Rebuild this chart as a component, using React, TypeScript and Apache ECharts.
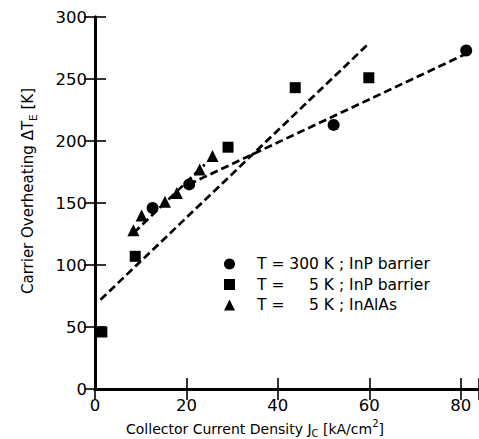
import React, { useEffect, useRef } from "react";
import * as echarts from "echarts";

const circleX = [12.6, 20.6, 52.2, 81.2];
const circleY = [146, 165, 213, 273];
const squareX = [1.5, 8.8, 29.1, 43.8, 59.9];
const squareY = [46, 107, 195, 243, 251];
const triX = [8.4, 10.2, 15.3, 17.9, 22.9, 25.7];
const triY = [128, 140, 151, 158, 177, 188];
const fitSquareX = [1.2, 60];
const fitSquareY = [72, 279];
const fitCircleX = [20.5, 81];
const fitCircleY = [165, 270];
const fitTriX = [8.5, 24];
const fitTriY = [126, 181];
const xTicks = [0, 20, 40, 60, 80];
const yTicks = [0, 50, 100, 150, 200, 250, 300];
const legendNames = [
  "T = 300 K ; InP barrier",
  "T = \u2007\u20075 K ; InP barrier",
  "T = \u2007\u20075 K ; InAlAs",
];

const zip = (xs: number[], ys: number[]) => xs.map((x, i) => [x, ys[i]]);

export default function App() {
  const ref = useRef<HTMLDivElement>(null);
  useEffect(() => {
    if (!ref.current) return;
    const chart = echarts.init(ref.current, null, { renderer: "svg" });
    const font = "DejaVu Sans, Liberation Sans, Arial, sans-serif";
    const dashed = (xs: number[], ys: number[]) => ({
      type: "line",
      data: zip(xs, ys),
      symbol: "none",
      lineStyle: { color: "#000", width: 2.7, type: [8, 4] },
      z: 1,
      silent: true,
    });
    const marker = (name: string, symbol: string, xs: number[], ys: number[], size: number) => ({
      type: "scatter",
      name,
      data: zip(xs, ys),
      symbol,
      symbolSize: size,
      itemStyle: { color: "#000", opacity: 1 },
      z: 3,
    });
    const axisLineStyle = { color: "#000", width: 3 };
    const tickStyle = { show: true, inside: true, length: 11, lineStyle: { color: "#000", width: 1.6 } };
    chart.setOption({
      animation: false,
      grid: { left: 95, right: 0, top: 17, bottom: 50, outerBoundsMode: "none" },
      legend: {
        show: true,
        orient: "vertical",
        left: 219,
        top: 251,
        padding: 5,
        itemWidth: 11,
        itemHeight: 11,
        itemGap: 4.5,
        data: [
          { name: legendNames[0], icon: "circle", itemStyle: { color: "#000", opacity: 1 } },
          { name: legendNames[1], icon: "rect", itemStyle: { color: "#000", opacity: 1 } },
          { name: legendNames[2], icon: "triangle", itemStyle: { color: "#000", opacity: 1 } },
        ],
        textStyle: {
          fontFamily: font,
          fontSize: 15.5,
          color: "#000",
          lineHeight: 16,
          padding: [0, 0, 0, 17],
        },
      },
      xAxis: [
        {
          type: "value",
          min: 0,
          max: 84,
          interval: 20,
          axisLine: { show: true, lineStyle: axisLineStyle },
          axisTick: tickStyle,
          axisLabel: {
            color: "#000",
            fontSize: 16.5,
            fontFamily: font,
            margin: 8,
            formatter: (v: number) => (xTicks.includes(v) ? String(v) : ""),
          },
          splitLine: { show: false },
          name: "{n|Collector Current Density J}{sub|C}{n| [kA/cm}{sup|2}{n|]}",
          nameLocation: "middle",
          nameGap: 24,
          nameTextStyle: {
            padding: [0, 64, 0, 0],
            rich: {
              n: { fontFamily: font, fontSize: 14, color: "#000", lineHeight: 20, verticalAlign: "middle" },
              sub: { fontFamily: font, fontSize: 10, color: "#000", verticalAlign: "bottom", lineHeight: 20, padding: [8, 0, 0, 0] },
              sup: { fontFamily: font, fontSize: 10, color: "#000", verticalAlign: "top", lineHeight: 20, padding: [0, 0, 6, 0] },
            },
          },
        },
        {
          type: "value",
          position: "top",
          min: 0,
          max: 84,
          interval: 20,
          axisLine: { show: true, lineStyle: axisLineStyle },
          axisTick: tickStyle,
          axisLabel: { show: false },
          splitLine: { show: false },
        },
      ],
      yAxis: [
        {
          type: "value",
          min: 0,
          max: 300,
          interval: 50,
          axisLine: { show: true, lineStyle: axisLineStyle },
          axisTick: tickStyle,
          axisLabel: {
            color: "#000",
            fontSize: 16.5,
            fontFamily: font,
            margin: 8,
            formatter: (v: number) => (yTicks.includes(v) ? String(v) : ""),
          },
          splitLine: { show: false },
          name: "{n|Carrier Overheating \u0394T}{sub|E}{n| [K]}",
          nameLocation: "middle",
          nameGap: 57,
          nameTextStyle: {
            padding: [0, 0, 0, 24],
            rich: {
              n: { fontFamily: font, fontSize: 15, color: "#000", lineHeight: 20, verticalAlign: "middle" },
              sub: { fontFamily: font, fontSize: 10.5, color: "#000", verticalAlign: "bottom", lineHeight: 20, padding: [8, 0, 0, 0] },
            },
          },
        },
        {
          type: "value",
          position: "right",
          min: 0,
          max: 300,
          interval: 50,
          axisLine: { show: true, lineStyle: axisLineStyle },
          axisTick: tickStyle,
          axisLabel: { show: false },
          splitLine: { show: false },
        },
      ],
      series: [
        dashed(fitSquareX, fitSquareY),
        dashed(fitCircleX, fitCircleY),
        dashed(fitTriX, fitTriY),
        marker(legendNames[0], "circle", circleX, circleY, 12),
        marker(legendNames[1], "rect", squareX, squareY, 11),
        marker(legendNames[2], "triangle", triX, triY, 12),
      ],
    });
    return () => chart.dispose();
  }, []);
  return (
    <div
      ref={ref}
      style={{ position: "fixed", left: 0, top: 0, width: 479, height: 439, background: "#fff" }}
    />
  );
}
